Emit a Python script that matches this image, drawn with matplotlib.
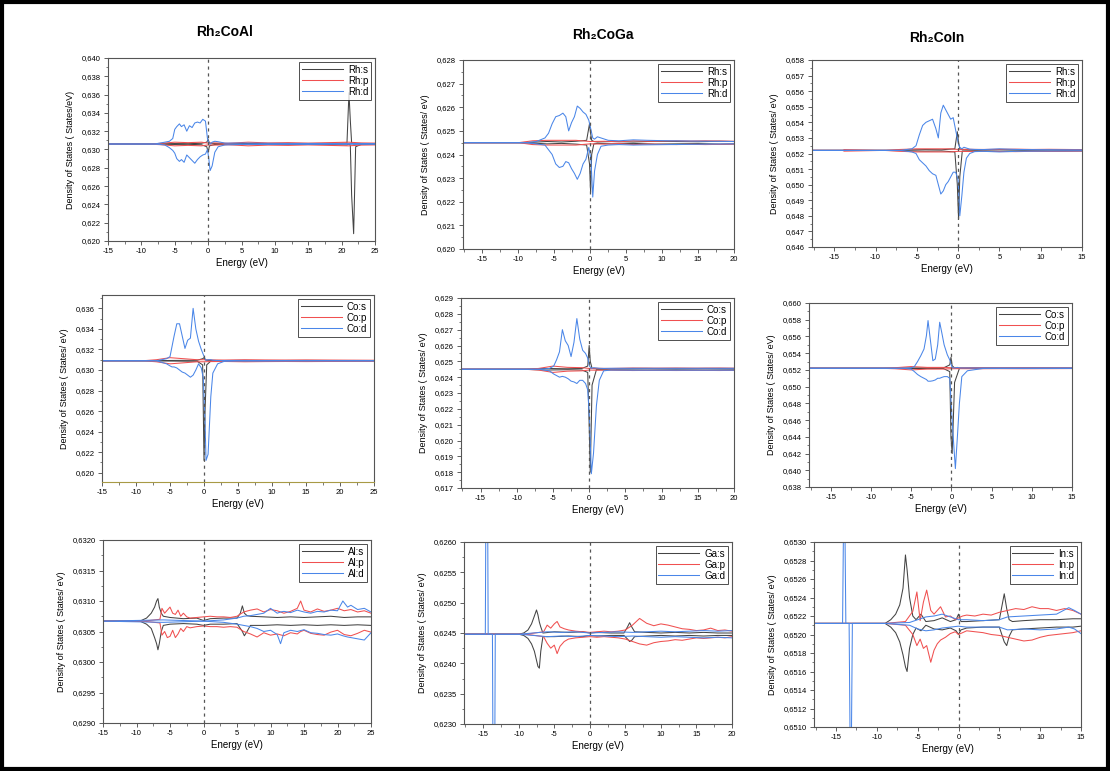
import matplotlib
matplotlib.use('Agg')
import matplotlib.pyplot as plt
import matplotlib.ticker as mtick
from matplotlib.patches import Rectangle

plt.rcParams['font.family'] = ['Liberation Sans', 'DejaVu Sans']
plt.rcParams['axes.unicode_minus'] = False

compounds = ['Rh₂CoAl', 'Rh₂CoGa', 'Rh₂CoIn']
atoms = [['Rh', 'Rh', 'Rh'], ['Co', 'Co', 'Co'], ['Al', 'Ga', 'In']]

# baselines (offset of every curve in each panel)
b_al = 0.6306
b_ga = 0.6245
b_in = 0.6522
b_alco = 0.6309
b_alal = 0.63067
b_gaga = 0.62448
b_inin = 0.65212

# ---------------- Rh2CoAl : Rh ----------------
al_rh_s_x = [-15, -9, -7, -5, -3, -1, -0.2, 0, 0.2, 1, 3, 6, 9, 12, 15, 18, 20.8, 21.1, 21.3, 21.5, 21.8, 22.1, 23, 25]
al_rh_s_up = [b_al, b_al, .63062, .63065, .63063, .63068, .6308, .6311, .6307, .63065, .63062, .63066, .63064, .63066, .63063, .63065, .6307, .6362, .6332, .6307, .6306, .6306, .63062, b_al]
al_rh_s_dn = [b_al, b_al, .63058, .63055, .63057, .63052, .6303, .6297, .6304, .63055, .63058, .63054, .63056, .63054, .63057, .63055, .6305, .6306, .6305, .6250, .6208, .6303, .63058, b_al]
al_rh_p_x = [-15, -9, -7, -5, -3, -1, 0, 1, 3, 6, 9, 12, 15, 18, 21, 23, 25]
al_rh_p_up = [b_al, b_al, .63068, .6308, .63075, .6308, .6307, .63072, .63068, .6308, .63072, .63075, .6307, .63075, .6308, .63072, .6307]
al_rh_p_dn = [b_al, b_al, .63052, .6304, .63045, .6304, .6305, .63048, .63052, .6304, .63048, .63045, .6305, .63045, .6304, .63048, .6305]
al_rh_d_x = [-15, -8, -6.5, -5.8, -5.3, -5.0, -4.7, -4.3, -4.0, -3.6, -3.2, -2.8, -2.4, -2.0, -1.6, -1.2, -0.8, -0.4, -0.1, 0.1, 0.3, 0.6, 1.0, 1.5, 2.5, 5, 8, 12, 16, 20, 25]
al_rh_d_up = [b_al, b_al, .6308, .6309, .6312, .6322, .6325, .6328, .6325, .6327, .6320, .6326, .6324, .6329, .6330, .6329, .6333, .6331, .6312, .6307, .6306, .6308, .6309, .63085, .6307, .6307, .63068, .63066, .63066, .63065, .63065]
al_rh_d_dn = [b_al, b_al, .6305, .6302, .6299, .6296, .6290, .6287, .6289, .6286, .6294, .6291, .6288, .6285, .6289, .6292, .6294, .6295, .6300, .6290, .6277, .6282, .6297, .6303, .6305, .63055, .63055, .63056, .63056, .63057, .63057]

# ---------------- Rh2CoGa : Rh ----------------
ga_rh_s_x = [-18, -10, -8, -6, -4, -2, -0.5, -0.1, 0.05, 0.2, 0.5, 1, 3, 6, 9, 12, 15, 18, 20]
ga_rh_s_up = [b_ga, b_ga, .62452, .62455, .62453, .62456, .6246, .6253, .6249, .6246, .62455, .62453, .62455, .62453, .62456, .62455, .62454, .62456, .62455]
ga_rh_s_dn = [b_ga, b_ga, .62448, .62445, .62447, .62444, .6244, .6236, .6224, .6240, .62445, .62447, .62445, .62447, .62444, .62445, .62446, .62444, .62445]
ga_rh_p_x = [-18, -10, -8, -6, -4, -2, 0, 2, 4, 6, 8, 10, 12, 14, 16, 18, 20]
ga_rh_p_up = [b_ga, b_ga, .62458, .6246, .6246, .6246, .62455, .62456, .62454, .62458, .62456, .62457, .62458, .62457, .62458, .62457, .62456]
ga_rh_p_dn = [b_ga, b_ga, .62442, .6244, .6244, .6244, .62445, .62444, .62446, .62442, .62444, .62443, .62442, .62443, .62442, .62443, .62444]
ga_rh_d_x = [-18, -9, -7.5, -6.3, -5.8, -5.3, -4.8, -4.3, -3.8, -3.4, -3.0, -2.6, -2.2, -1.8, -1.4, -1.0, -0.6, -0.2, 0.1, 0.35, 0.6, 1.0, 1.5, 2.5, 4, 6, 8, 11, 14, 17, 20]
ga_rh_d_up = [b_ga, b_ga, .62455, .6247, .6249, .6253, .6256, .62565, .62575, .6256, .6250, .62535, .6256, .62605, .62595, .6258, .6257, .62545, .62505, .6247, .62465, .62475, .6247, .6246, .62458, .62462, .6246, .62458, .62457, .62456, .62455]
ga_rh_d_dn = [b_ga, b_ga, .62445, .6244, .6242, .6240, .6236, .62345, .6235, .6237, .62365, .6234, .6232, .62295, .6232, .6236, .6238, .6243, .6238, .6222, .6233, .6240, .62435, .6244, .62442, .6244, .62441, .62442, .62443, .62444, .62445]

# ---------------- Rh2CoIn : Rh ----------------
in_rh_s_x = [-18, -9, -6, -4, -2, -0.4, -0.1, 0.05, 0.2, 0.5, 2, 5, 8, 11, 15]
in_rh_s_up = [b_in, b_in, .65223, .65225, .65224, .6523, .6534, .6527, .6523, .65224, .65223, .65225, .65223, .65224, .65223]
in_rh_s_dn = [b_in, b_in, .65217, .65215, .65216, .6521, .6500, .6478, .6505, .65215, .65217, .65215, .65217, .65216, .65217]
in_rh_p_x = [-18, -14, -13.8, -9, -7, -5, -3, -1, 0, 1, 3, 5, 7, 9, 11, 13, 15]
in_rh_p_up = [b_in, b_in, .65225, .6522, .65226, .6523, .6523, .6523, .65226, .65227, .65226, .65227, .65228, .65226, .65227, .65226, .65225]
in_rh_p_dn = [b_in, b_in, .65215, .6522, .65214, .6521, .6521, .6521, .65214, .65213, .65214, .65213, .65212, .65214, .65213, .65214, .65215]
in_rh_d_x = [-18, -7, -5.6, -5.1, -4.7, -4.3, -3.9, -3.5, -3.1, -2.7, -2.4, -2.1, -1.8, -1.5, -1.2, -0.9, -0.6, -0.3, 0.0, 0.2, 0.45, 0.7, 1.0, 1.4, 2, 3, 5, 7, 9, 12, 15]
in_rh_d_up = [b_in, b_in, .6523, .6525, .6532, .6538, .6540, .6541, .6542, .6536, .6530, .6546, .6551, .6548, .6545, .6542, .6543, .6535, .6527, .6524, .6523, .6524, .65235, .65228, .65226, .65225, .6523, .65226, .65225, .65224, .65223]
in_rh_d_dn = [b_in, b_in, .6521, .6520, .6516, .6514, .6512, .6509, .6507, .6506, .6500, .6494, .6496, .6500, .6502, .6505, .6508, .6508, .6503, .6480, .6493, .6508, .6517, .6520, .65212, .65214, .6521, .65214, .65215, .65216, .65217]

# ---------------- Rh2CoAl : Co ----------------
al_co_s_x = [-15, -9, -6, -3, -1, -0.2, 0, 0.15, 0.4, 1, 3, 6, 10, 15, 20, 25]
al_co_s_up = [b_alco, b_alco, .63092, .63094, .63095, .6311, .6312, .6310, .63094, .63093, .63092, .63093, .63092, .63093, .63092, .63091]
al_co_s_dn = [b_alco, b_alco, .63088, .63086, .63085, .6305, .6212, .6260, .6305, .63087, .63088, .63087, .63088, .63087, .63088, .63089]
al_co_p_x = [-15, -9, -7, -5, -3, -1, 0, 1, 3, 6, 9, 12, 15, 18, 21, 25]
al_co_p_up = [b_alco, b_alco, .6310, .6312, .6311, .6310, .6310, .63098, .63097, .6310, .63098, .63097, .63098, .63097, .63096, .63095]
al_co_p_dn = [b_alco, b_alco, .6308, .6306, .6307, .6308, .6308, .63082, .63083, .6308, .63082, .63083, .63082, .63083, .63084, .63085]
al_co_d_x = [-15, -7, -5.5, -5, -4.7, -4.4, -4.0, -3.6, -3.2, -2.8, -2.4, -2.0, -1.6, -1.2, -0.8, -0.4, -0.1, 0.15, 0.3, 0.6, 1.0, 1.3, 2.0, 3, 5, 8, 12, 16, 20, 25]
al_co_d_up = [b_alco, b_alco, .6311, .6313, .6323, .6333, .6345, .6345, .6333, .6321, .6329, .6331, .6360, .6340, .6328, .6320, .6315, .6311, .63095, .6310, .6310, .63095, .63092, .63092, .63093, .63092, .63092, .63092, .63092, .63092]
al_co_d_dn = [b_alco, b_alco, .6306, .6304, .6303, .6303, .6302, .6300, .6298, .6297, .6295, .6293, .6295, .6300, .6306, .6302, .6292, .6250, .6212, .6218, .6274, .6297, .6306, .63085, .63087, .63087, .63088, .63088, .63088, .63088]

# ---------------- Rh2CoGa : Co ----------------
ga_co_s_x = [-18, -9, -6, -3, -1, -0.2, 0.0, 0.15, 0.4, 1, 4, 8, 12, 16, 20]
ga_co_s_up = [b_ga, b_ga, .62455, .62453, .62455, .6247, .6260, .6250, .62455, .62453, .62454, .62455, .62454, .62455, .62454]
ga_co_s_dn = [b_ga, b_ga, .62445, .62447, .62445, .6243, .6210, .6180, .6235, .62447, .62446, .62445, .62446, .62445, .62446]
ga_co_p_x = [-18, -9, -7, -5, -3, -1, 0, 1, 3, 6, 9, 12, 15, 18, 20]
ga_co_p_up = [b_ga, b_ga, .62455, .6247, .62462, .6246, .62455, .62456, .62455, .62458, .62457, .62458, .62457, .62458, .62457]
ga_co_p_dn = [b_ga, b_ga, .62445, .6243, .62438, .6244, .62445, .62444, .62445, .62442, .62443, .62442, .62443, .62442, .62443]
ga_co_d_x = [-18, -7, -5.5, -4.9, -4.5, -4.1, -3.7, -3.3, -2.9, -2.5, -2.1, -1.7, -1.3, -0.9, -0.5, -0.2, 0.05, 0.3, 0.6, 1.0, 1.4, 2.0, 3, 6, 10, 14, 20]
ga_co_d_up = [b_ga, b_ga, .62455, .6247, .6251, .6256, .6270, .6263, .6260, .6253, .6262, .6277, .6264, .6257, .6255, .6252, .6247, .62455, .6246, .62458, .62456, .62455, .62456, .62456, .62456, .62456, .62456]
ga_co_d_dn = [b_ga, b_ga, .6244, .6242, .6241, .6240, .62405, .6240, .6239, .62375, .6237, .6236, .6238, .6238, .6236, .6232, .6213, .6179, .6192, .6222, .6238, .6244, .62445, .62444, .62444, .62444, .62444]

# ---------------- Rh2CoIn : Co ----------------
in_co_s_x = [-18, -9, -6, -3, -1, -0.2, -0.05, 0.1, 0.4, 1, 4, 8, 12, 15]
in_co_s_up = [b_in, b_in, .65222, .65224, .65223, .6526, .6535, .6525, .65223, .65222, .65223, .65222, .65223, .65222]
in_co_s_dn = [b_in, b_in, .65218, .65216, .65217, .6518, .6440, .6420, .6505, .65218, .65217, .65218, .65217, .65218]
in_co_p_x = [-18, -9, -7, -5, -3, -1, 0, 1, 3, 6, 9, 12, 15]
in_co_p_up = [b_in, b_in, .65226, .6524, .6523, .6523, .65226, .65225, .65226, .65225, .65226, .65225, .65224]
in_co_p_dn = [b_in, b_in, .65214, .6520, .6521, .6521, .65214, .65215, .65214, .65215, .65214, .65215, .65216]
in_co_d_x = [-18, -6, -5, -4.6, -4.2, -3.8, -3.4, -3.1, -2.9, -2.6, -2.3, -2.0, -1.7, -1.45, -1.2, -0.9, -0.5, -0.2, 0.1, 0.3, 0.5, 0.75, 1.0, 1.3, 2, 4, 8, 12, 15]
in_co_d_up = [b_in, b_in, .65225, .6524, .6530, .6537, .6545, .6561, .6579, .6555, .6531, .6533, .6550, .6577, .6565, .6550, .6538, .6532, .6523, .65224, .65224, .6523, .65224, .65223, .65223, .65222, .65222, .65222, .65222]
in_co_d_dn = [b_in, b_in, .6521, .6518, .65145, .6512, .6510, .65085, .65065, .65065, .6507, .6508, .6510, .6510, .6511, .6512, .6512, .6510, .6460, .6430, .6402, .6440, .6480, .6512, .6519, .65218, .65218, .65218, .65218]

# ---------------- Rh2CoAl : Al ----------------
al_al_s_x = [-15, -9.5, -8.5, -7.8, -7.3, -7.0, -6.8, -6.6, -6.3, -6.0, -5, -3, -1, 0, 1, 3, 5, 5.5, 5.8, 6.1, 6.5, 7, 9, 11, 13, 15, 17, 19, 21, 23, 25]
al_al_s_up = [b_alal, b_alal, .63072, .6308, .6309, .6310, .63104, .6309, .6308, .63075, .63073, .63071, .63072, .63068, .63071, .63072, .63072, .6308, .63092, .6308, .63076, .63075, .63074, .63073, .63074, .63073, .63074, .63075, .63073, .63074, .63074]
al_al_s_dn = [b_alal, b_alal, .63062, .63055, .6304, .6303, .6302, .6303, .6305, .6306, .63062, .63063, .63062, .6306, .63062, .63062, .63063, .63055, .6305, .63043, .6305, .6306, .6306, .63061, .6306, .63061, .6306, .63061, .6306, .63061, .6306]
al_al_p_x = [-15, -9, -6.5, -6.2, -5.8, -5.4, -5.0, -4.6, -4.2, -3.8, -3.4, -3.0, -2.5, -2, -1, 0, 1, 2, 3, 4, 5, 6, 7, 8, 9, 10, 11, 12, 13, 14, 14.5, 15, 16, 17, 18, 19, 20, 21, 22, 23, 24, 25]
al_al_p_up = [b_alal, b_alal, .6307, .63088, .6308, .63085, .6309, .6308, .63078, .63085, .63075, .6308, .63074, .63072, .63073, .63074, .63075, .63074, .63074, .63073, .63075, .63082, .63085, .63087, .63082, .63086, .63084, .6308, .63083, .63088, .6310, .63085, .63082, .63087, .63083, .63085, .63088, .63084, .63086, .63082, .63084, .6308]
al_al_p_dn = [b_alal, b_alal, .63064, .63044, .6305, .6304, .63042, .63052, .6304, .63046, .63055, .6305, .63058, .63056, .63058, .63059, .63058, .63058, .63057, .63058, .63057, .6305, .63046, .63041, .63048, .63044, .63046, .63043, .63048, .63046, .6305, .63052, .63047, .63045, .63044, .63049, .63052, .63045, .63043, .63047, .63052, .63049]
al_al_d_x = [-15, -6, -3, 0, 3, 5, 6, 7, 8, 9, 10, 11, 11.5, 12, 13, 14, 15, 16, 17, 18, 19, 20, 20.8, 21.5, 22, 23, 24, 25]
al_al_d_up = [b_alal, .63069, .63068, .63067, .63069, .63072, .63075, .63076, .63078, .6308, .63088, .6308, .63082, .63083, .63081, .63085, .63082, .6308, .63083, .63082, .63085, .63084, .6310, .6309, .63093, .63086, .63088, .63082]
al_al_d_dn = [b_alal, .63065, .63066, .63067, .63065, .63062, .6306, .63058, .63055, .6305, .63052, .63045, .6303, .63048, .63052, .6305, .63053, .63048, .63047, .63045, .63044, .63046, .63043, .63041, .6304, .63038, .63036, .63048]

# ---------------- Rh2CoGa : Ga ----------------
ga_ga_s_x = [-17.7, -10, -9.3, -8.7, -8.2, -7.8, -7.5, -7.3, -7.1, -6.9, -6.6, -5, -3, -1, 0, 1, 3, 4.8, 5.3, 5.6, 5.9, 6.3, 8, 10, 12, 14, 16, 18, 20]
ga_ga_s_up = [b_gaga, b_gaga, .6245, .62455, .62465, .62478, .62488, .6248, .62468, .6246, .6245, .62452, .62451, .62452, .6245, .62451, .6245, .6245, .6246, .62467, .6246, .62452, .62451, .6245, .62451, .6245, .62451, .6245, .6245]
ga_ga_s_dn = [b_gaga, b_gaga, .62446, .62441, .62432, .6242, .62405, .62395, .62392, .6242, .62444, .62444, .62445, .62444, .62446, .62445, .62446, .62446, .6244, .62436, .62438, .62444, .62445, .62446, .62445, .62446, .62445, .62446, .62446]
ga_ga_p_x = [-17.7, -14, -9, -6.5, -6.0, -5.5, -5.0, -4.6, -4.2, -3.6, -3.0, -2.0, -1, 0, 1, 2, 3, 4, 5, 6, 7, 8, 9, 10, 11, 12, 13, 14, 15, 16, 17, 18, 19, 20]
ga_ga_p_up = [b_gaga, b_gaga, b_gaga, .62452, .62463, .62458, .62465, .62469, .6246, .62457, .62455, .62453, .62452, .62451, .62452, .62453, .62452, .62453, .62455, .62463, .62474, .62466, .62462, .62465, .62463, .6246, .62457, .62456, .62454, .62455, .62458, .62454, .62455, .62453]
ga_ga_p_dn = [b_gaga, b_gaga, b_gaga, .62444, .62433, .62425, .6243, .62416, .62428, .62436, .6244, .62442, .62443, .62444, .62443, .62444, .62443, .62442, .6244, .62436, .62432, .6243, .62434, .62436, .62437, .62439, .62438, .6244, .62442, .62441, .62442, .62443, .62442, .62444]
ga_ga_d_x = [-17.7, -14.7, -14.5, -14.3, -13.7, -13.5, -13.3, -10, -6, -4, -2, 0, 2, 4, 6, 8, 10, 12, 14, 16, 18, 20]
ga_ga_d_up = [b_gaga, b_gaga, .6300, b_gaga, b_gaga, b_gaga, b_gaga, b_gaga, .62452, .62451, .62452, .6245, .62451, .62452, .62451, .62452, .62453, .62452, .62453, .62454, .62453, .62454]
ga_ga_d_dn = [b_gaga, b_gaga, b_gaga, b_gaga, b_gaga, .6190, b_gaga, b_gaga, .62444, .62445, .62444, .62446, .62445, .62444, .62445, .62444, .62443, .62444, .62443, .62442, .62443, .62442]

# ---------------- Rh2CoIn : In ----------------
in_in_s_x = [-17.7, -9, -8.3, -7.7, -7.2, -6.8, -6.5, -6.3, -6.0, -5.6, -5.2, -4.6, -4.0, -3, -2, -1, -0.3, 0, 0.3, 1, 3, 5, 5.3, 5.6, 5.9, 6.2, 6.6, 8, 10, 12, 14, 15]
in_in_s_up = [b_inin, b_inin, .65216, .65222, .65232, .6525, .65286, .6527, .6524, .6522, .65216, .65222, .65214, .65215, .65218, .65214, .65216, .65222, .65214, .65214, .65215, .65216, .6523, .65244, .65228, .65216, .65214, .65215, .65216, .65216, .65217, .65217]
in_in_s_dn = [b_inin, b_inin, .65208, .65202, .65192, .65178, .65165, .6516, .65185, .652, .65207, .65204, .6521, .65206, .65205, .65207, .65204, .652, .65205, .65207, .65208, .65208, .652, .65192, .65188, .65198, .65205, .65206, .65207, .65208, .65208, .65209]
in_in_p_x = [-17.7, -14, -9, -6.5, -5.6, -5.1, -4.7, -4.3, -3.9, -3.4, -3.0, -2.6, -2.2, -1.6, -1.0, -0.4, 0, 0.5, 1, 2, 3, 4, 5, 6, 7, 8, 9, 10, 11, 12, 13, 14, 15]
in_in_p_up = [b_inin, b_inin, b_inin, .65214, .65225, .65246, .65215, .65235, .65248, .65226, .65222, .65226, .6523, .65219, .6522, .65216, .65218, .6522, .65221, .6522, .65222, .65221, .65224, .65226, .65228, .65227, .6523, .65228, .65228, .65226, .65228, .65226, .65222]
in_in_p_dn = [b_inin, b_inin, b_inin, .6521, .652, .65188, .65195, .65185, .65188, .6517, .65183, .6519, .65194, .65197, .65201, .65203, .652, .65202, .65204, .65203, .65202, .652, .65199, .65197, .65195, .65193, .65194, .65197, .65199, .652, .65201, .65202, .65204]
in_in_d_x = [-17.7, -14.2, -14.0, -13.8, -13.4, -13.2, -13.0, -9, -6, -5, -4, -3, -2, -1, 0, 1, 3, 5, 6, 8, 10, 12, 13.5, 14.2, 15]
in_in_d_up = [b_inin, b_inin, .6540, b_inin, b_inin, b_inin, b_inin, b_inin, .65213, .65216, .65219, .6522, .65222, .65219, .65216, .65216, .65215, .65216, .65219, .6522, .65221, .65222, .65229, .65226, .65222]
in_in_d_dn = [b_inin, b_inin, b_inin, b_inin, b_inin, .6500, b_inin, b_inin, .6521, .65206, .65204, .65205, .65207, .65208, .65209, .65208, .65208, .65208, .65205, .65206, .65205, .65206, .65208, .65206, .65201]

panels = [
    [(al_rh_s_x, al_rh_s_up, al_rh_s_dn), (al_rh_p_x, al_rh_p_up, al_rh_p_dn), (al_rh_d_x, al_rh_d_up, al_rh_d_dn)],
    [(ga_rh_s_x, ga_rh_s_up, ga_rh_s_dn), (ga_rh_p_x, ga_rh_p_up, ga_rh_p_dn), (ga_rh_d_x, ga_rh_d_up, ga_rh_d_dn)],
    [(in_rh_s_x, in_rh_s_up, in_rh_s_dn), (in_rh_p_x, in_rh_p_up, in_rh_p_dn), (in_rh_d_x, in_rh_d_up, in_rh_d_dn)],
    [(al_co_s_x, al_co_s_up, al_co_s_dn), (al_co_p_x, al_co_p_up, al_co_p_dn), (al_co_d_x, al_co_d_up, al_co_d_dn)],
    [(ga_co_s_x, ga_co_s_up, ga_co_s_dn), (ga_co_p_x, ga_co_p_up, ga_co_p_dn), (ga_co_d_x, ga_co_d_up, ga_co_d_dn)],
    [(in_co_s_x, in_co_s_up, in_co_s_dn), (in_co_p_x, in_co_p_up, in_co_p_dn), (in_co_d_x, in_co_d_up, in_co_d_dn)],
    [(al_al_s_x, al_al_s_up, al_al_s_dn), (al_al_p_x, al_al_p_up, al_al_p_dn), (al_al_d_x, al_al_d_up, al_al_d_dn)],
    [(ga_ga_s_x, ga_ga_s_up, ga_ga_s_dn), (ga_ga_p_x, ga_ga_p_up, ga_ga_p_dn), (ga_ga_d_x, ga_ga_d_up, ga_ga_d_dn)],
    [(in_in_s_x, in_in_s_up, in_in_s_dn), (in_in_p_x, in_in_p_up, in_in_p_dn), (in_in_d_x, in_in_d_up, in_in_d_dn)],
]

W, H = 1110, 771
# axes boxes in pixels: left, right, top, bottom
boxes = [(108, 375, 58, 241), (463, 734, 60, 249), (812, 1082, 60, 247),
         (102, 374, 295, 482), (461, 734, 298, 488), (809, 1072, 303, 487),
         (103, 371, 540, 723), (464, 732, 542, 724), (814, 1081, 542, 727)]
ylims = [(0.620, 0.640), (0.620, 0.628), (0.646, 0.658),
         (0.6191, 0.6373), (0.617, 0.629), (0.638, 0.660),
         (0.6290, 0.6320), (0.6230, 0.6260), (0.6510, 0.6530)]
ysteps = [0.002, 0.001, 0.001, 0.002, 0.001, 0.002, 0.0005, 0.0005, 0.0002]
ydec = [3, 3, 3, 3, 3, 3, 4, 4, 4]
xlims = [(-15, 25), (-17.7, 20), (-17.7, 15)]
colors = ['#444444', '#f05050', '#4a86e8']
orbs = ['s', 'p', 'd']

fig = plt.figure(figsize=(W / 100, H / 100), dpi=100)

for i in range(9):
    row, col = divmod(i, 3)
    l, r, t, bt = boxes[i]
    ax = fig.add_axes([l / W, 1 - bt / H, (r - l) / W, (bt - t) / H])
    for k, (x, up, dn) in enumerate(panels[i]):
        ax.plot(x, up, color=colors[k], lw=0.75, label=atoms[row][col] + ':' + orbs[k])
        ax.plot(x, dn, color=colors[k], lw=0.75)
    ax.axvline(0, color='#555555', lw=0.9, ls=(0, (2.5, 3)))
    ax.set_xlim(xlims[col])
    ax.set_ylim(ylims[i])
    ax.xaxis.set_major_locator(mtick.MultipleLocator(5))
    ax.xaxis.set_minor_locator(mtick.MultipleLocator(2.5))
    ax.yaxis.set_major_locator(mtick.MultipleLocator(ysteps[i]))
    ax.yaxis.set_minor_locator(mtick.MultipleLocator(ysteps[i] / 2))
    d = ydec[i]
    ax.yaxis.set_major_formatter(mtick.FuncFormatter(lambda v, p, d=d: ('%.*f' % (d, v)).replace('.', ',')))
    ax.tick_params(which='major', length=3, width=0.6, labelsize=5.5, pad=2, color='#444444')
    ax.tick_params(which='minor', length=1.8, width=0.5, color='#444444')
    for s in ax.spines.values():
        s.set_linewidth(0.8)
        s.set_color('#555555')
    if i == 3:
        ax.spines['bottom'].set_color('#a89a45')
    ax.set_xlabel('Energy (eV)', fontsize=7, labelpad=2)
    ylab = 'Density of States ( States/eV)' if i == 0 else 'Density of States ( States/ eV)'
    ax.set_ylabel(ylab, fontsize=6.5, labelpad=5)
    leg = ax.legend(loc='upper right', fontsize=7, handlelength=4.2, fancybox=False,
                    borderpad=0.3, labelspacing=0.1, handletextpad=0.5, borderaxespad=0.4)
    leg.get_frame().set_edgecolor('#222222')
    leg.get_frame().set_linewidth(0.7)

fig.text(225 / W, 1 - 32 / H, compounds[0], fontsize=10, fontweight='bold', ha='center', va='center')
fig.text(603 / W, 1 - 35 / H, compounds[1], fontsize=10, fontweight='bold', ha='center', va='center')
fig.text(937 / W, 1 - 38 / H, compounds[2], fontsize=10, fontweight='bold', ha='center', va='center')

fig.patches.append(Rectangle((0.002, 0.003), 0.996, 0.994, transform=fig.transFigure,
                             fill=False, edgecolor='black', lw=3))

plt.savefig('out.png', dpi=100)
